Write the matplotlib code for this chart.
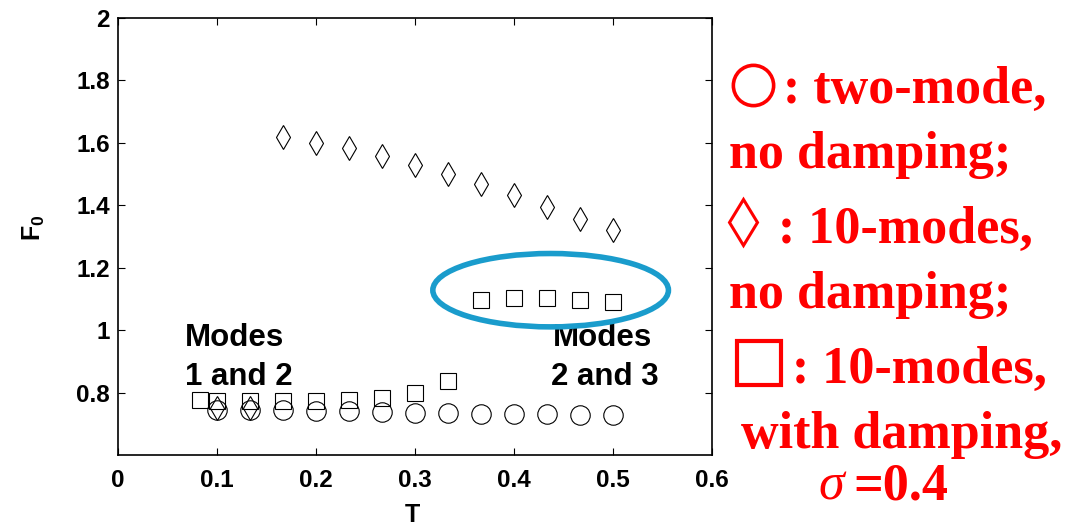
import matplotlib.pyplot as plt
from matplotlib.patches import Ellipse
from matplotlib.lines import Line2D

plt.rcParams['mathtext.fontset'] = 'custom'
plt.rcParams['mathtext.bf'] = 'Liberation Sans:bold'

# two-mode model, no damping
t_two = [0.1, 0.1333, 0.1667, 0.2, 0.2333, 0.2667, 0.3, 0.3333, 0.3667, 0.4, 0.4333, 0.4667, 0.5]
f_two = [0.745, 0.744, 0.743, 0.741, 0.740, 0.739, 0.735, 0.734, 0.731, 0.731, 0.731, 0.727, 0.727]

# 10 modes, no damping
t_ten = [0.1, 0.1333, 0.1667, 0.2, 0.2333, 0.2667, 0.3, 0.3333, 0.3667, 0.4, 0.4333, 0.4667, 0.5]
f_ten = [0.752, 0.752, 1.62, 1.60, 1.585, 1.557, 1.53, 1.50, 1.468, 1.432, 1.393, 1.357, 1.32]

# 10 modes, damping sigma = 0.4
t_damp = [0.0833, 0.1, 0.1333, 0.1667, 0.2, 0.2333, 0.2667, 0.3, 0.3333, 0.3667, 0.4, 0.4333, 0.4667, 0.5]
f_damp = [0.776, 0.774, 0.772, 0.772, 0.773, 0.776, 0.783, 0.799, 0.837, 1.098, 1.103, 1.103, 1.098, 1.09]

W, H = 1086, 525
fig = plt.figure(figsize=(W / 100, H / 100), dpi=100)
ax = fig.add_axes([118 / W, 1 - 455 / H, 594 / W, 437 / H])

ax.plot(t_two, f_two, 'o', ms=14, mfc='none', mec='black', mew=0.8)
ax.plot(t_ten, f_ten, 'd', ms=12.7, mfc='none', mec='black', mew=0.8)
ax.plot(t_damp, f_damp, 's', ms=11, mfc='none', mec='black', mew=0.8)

ax.add_patch(Ellipse((0.437, 1.128), 0.238, 0.235, fill=False,
                     edgecolor='#1a9ccc', lw=4, zorder=5))

bold = dict(fontfamily='Liberation Sans', fontweight='bold')
ax.text(0.0677, 0.949, 'Modes', fontsize=22.5, **bold)
ax.text(0.0677, 0.824, '1 and 2', fontsize=22.5, **bold)
ax.text(0.439, 0.949, 'Modes', fontsize=22.5, **bold)
ax.text(0.437, 0.824, '2 and 3', fontsize=22.5, **bold)

ax.set_xlim(0, 0.6)
ax.set_ylim(0.6, 2.0)
ax.set_xticks([0, 0.1, 0.2, 0.3, 0.4, 0.5, 0.6])
ax.set_xticklabels(['0', '0.1', '0.2', '0.3', '0.4', '0.5', '0.6'])
ax.set_yticks([0.8, 1.0, 1.2, 1.4, 1.6, 1.8, 2.0])
ax.set_yticklabels(['0.8', '1', '1.2', '1.4', '1.6', '1.8', '2'])
ax.tick_params(direction='in', top=True, right=True, length=5, width=0.8, labelsize=17.5)
ax.tick_params(axis='x', pad=10)
ax.tick_params(axis='y', pad=6)
for lab in ax.get_xticklabels() + ax.get_yticklabels():
    lab.set_fontfamily('Liberation Sans')
    lab.set_fontweight('bold')
for sp in ax.spines.values():
    sp.set_linewidth(1.2)

ax.set_xlabel('T', fontsize=18, **bold)
ax.xaxis.set_label_coords(0.495, -0.11)
ax.set_ylabel(r'$\mathbf{F_0}$', fontsize=18, **bold)
ax.yaxis.set_label_coords(-0.12, 0.52)


def fx(x):
    return x / W


def fy(y):
    return 1 - y / H


# legend symbols, drawn as markers in figure coordinates
sym = dict(color='red', mfc='none', mec='red', transform=fig.transFigure, ls='none')
fig.add_artist(Line2D([fx(753)], [fy(85)], marker='o', ms=29, mew=2.6, **sym))
fig.add_artist(Line2D([fx(743)], [fy(222)], marker='d', ms=23, mew=2.2, **sym))
fig.add_artist(Line2D([fx(759)], [fy(363)], marker='s', ms=32, mew=3, **sym))

# legend text on the right
red = dict(color='red', fontsize=37.5, fontweight='bold',
           fontfamily='Liberation Serif', va='baseline')
fig.text(fx(783), fy(103), ': two-mode,', **red)
fig.text(fx(729), fy(168), 'no damping;', **red)
fig.text(fx(778), fy(243), ': 10-modes,', **red)
fig.text(fx(729), fy(308), 'no damping;', **red)
fig.text(fx(792), fy(383), ': 10-modes,', **red)
fig.text(fx(741), fy(448), 'with damping,', **red)
fig.text(fx(818), fy(500), 'σ', color='red', fontsize=37.5, fontstyle='italic',
         fontfamily='Liberation Serif', va='baseline')
fig.text(fx(853), fy(500), '=0.4', **red)

fig.savefig('out.png', dpi=100)
